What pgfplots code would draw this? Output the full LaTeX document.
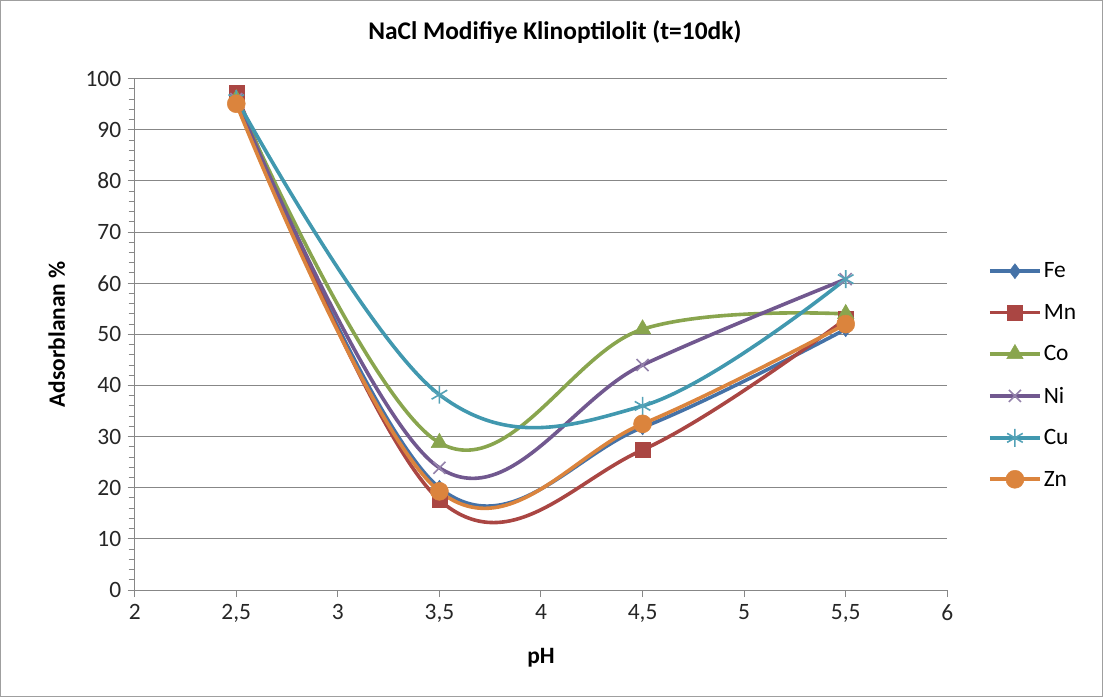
\documentclass[border=0pt]{standalone}
\usepackage{pgfplots}
\pgfplotsset{compat=1.18}
\usepackage{fontspec}
\setmainfont{Carlito}
\definecolor{cFe}{HTML}{4572A7}
\definecolor{cMn}{HTML}{AA4643}
\definecolor{cCo}{HTML}{89A54E}
\definecolor{cNi}{HTML}{71588F}
\definecolor{cCu}{HTML}{4198AF}
\definecolor{cZn}{HTML}{DB843D}
\definecolor{gridc}{HTML}{878787}
\begin{document}
\begin{tikzpicture}
\draw[gridc!80,line width=1.2bp] (1bp,1bp) rectangle (1102bp,696bp);
\begin{axis}[
  at={(135bp,107bp)}, anchor=south west,
  scale only axis, width=812bp, height=511bp,
  xmin=2, xmax=6, ymin=0, ymax=100,
  xtick={2,2.5,...,6}, ytick={0,10,...,100},
  minor y tick num=4,
  axis lines*=left, axis line style={gridc,line width=1bp,-},
  ymajorgrids, major grid style={gridc,line width=1bp},
  tick align=outside, major tick length=7bp, minor tick length=6bp,
  tick style={gridc,line width=1bp},
  /pgf/number format/use comma,
  /pgf/number format/assume math mode=true,
  ticklabel style={font=\fontsize{23.5}{27}\selectfont, text=black!85},
  xticklabel style={yshift=-4bp},
  yticklabel style={xshift=-3bp},
  xlabel={\textbf{pH}}, ylabel={\textbf{Adsorblanan \%}},
  xlabel style={at={(axis description cs:0.5,-0.133)},anchor=center,font=\fontsize{23.5}{27}\selectfont},
  ylabel style={at={(axis description cs:-0.096,0.5)},anchor=center,font=\fontsize{23.5}{27}\selectfont},
  title={\textbf{NaCl Modifiye Klinoptilolit (t=10dk)}},
  title style={at={(axis description cs:0.517,1.080)},anchor=center,font=\fontsize{25.5}{30}\selectfont},
  legend style={at={(1.05,0.42)},anchor=west,draw=none,fill=none,
    font=\fontsize{23.5}{27}\selectfont, row sep=20.8bp, inner sep=0pt},
  legend cell align=left,
  legend image code/.code={\draw[#1,mark repeat=2,mark phase=2] plot coordinates {(0bp,0bp) (25bp,0bp) (50bp,0bp)};},
  every axis plot/.append style={line width=3.6bp, smooth, tension=0.62},
]
\addplot[cFe, mark=diamond*, mark size=7.5bp, mark options={solid,line width=0.5bp}]
  coordinates {(2.5,96) (3.5,20) (4.5,31.8) (5.5,51)};
\addlegendentry{Fe}
\addplot[cMn, mark=square*, mark size=7.5bp, mark options={solid,line width=0.5bp}]
  coordinates {(2.5,97.3) (3.5,17.6) (4.5,27.4) (5.5,53)};
\addlegendentry{Mn}
\addplot[cCo, mark=triangle*, mark size=9.5bp, mark options={solid,line width=0.5bp}]
  coordinates {(2.5,96) (3.5,28.8) (4.5,51) (5.5,54)};
\addlegendentry{Co}
\addplot[cNi, mark=x, mark size=8.5bp, mark options={solid,line width=1.6bp,cNi!75}]
  coordinates {(2.5,96) (3.5,23.9) (4.5,44) (5.5,60.8)};
\addlegendentry{Ni}
\addplot[cCu, mark=asterisk, mark size=9bp, mark options={solid,line width=1.6bp,cCu!90}]
  coordinates {(2.5,96) (3.5,38.2) (4.5,36) (5.5,60.8)};
\addlegendentry{Cu}
\addplot[cZn, mark=*, mark size=9bp, mark options={solid,line width=0.5bp}]
  coordinates {(2.5,95.1) (3.5,19.3) (4.5,32.5) (5.5,52)};
\addlegendentry{Zn}
\end{axis}
\end{tikzpicture}
\end{document}
